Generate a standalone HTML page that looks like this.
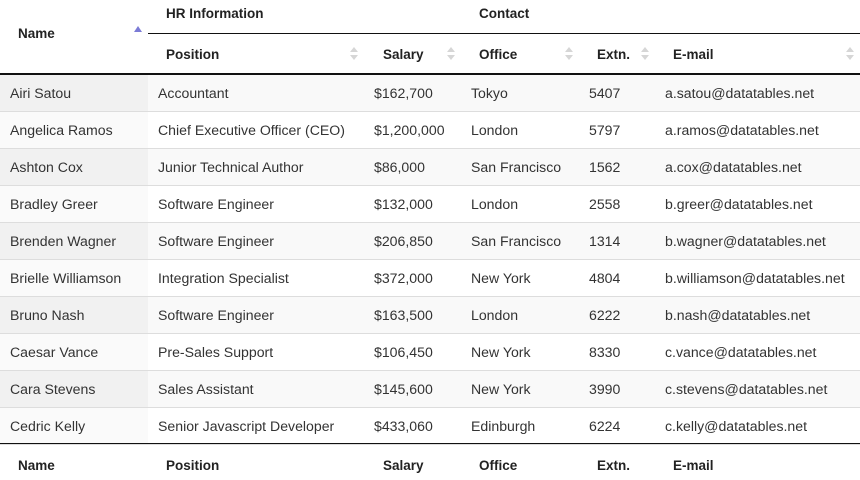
<!DOCTYPE html>
<html><head><meta charset="utf-8"><style>
body{margin:0;width:860px;height:480px;background:#fff;font-family:"Liberation Sans",Arial,sans-serif;color:#333;position:relative;overflow:hidden}
.a{position:absolute;white-space:nowrap}
.h{font-weight:bold;font-size:13.5px;color:#222}
.row{position:absolute;left:0;width:860px;height:36px;border-bottom:1px solid #ddd;font-size:14.1px}
.row .c{position:absolute;top:0;line-height:37px;height:36px;padding-left:10px;box-sizing:border-box}
.ic{position:absolute;width:8px;height:14px}
.ic:before,.ic:after{content:"";position:absolute;left:0;border-left:4px solid transparent;border-right:4px solid transparent}
.ic:before{top:0;border-bottom:5px solid #d6d6d6}
.ic:after{top:8px;border-top:5px solid #d6d6d6}
</style></head><body>
<div class="a h" style="left:18px;top:26px">Name</div>
<div class="a" style="left:134px;top:26px;border-left:4px solid transparent;border-right:4px solid transparent;border-bottom:6px solid #7b7bd6"></div>
<div class="a h" style="left:166px;top:6px">HR Information</div>
<div class="a h" style="left:479px;top:6px">Contact</div>
<div class="a" style="left:148px;top:33px;width:712px;height:1px;background:#111"></div>
<div class="a h" style="left:166px;top:47px">Position</div>
<div class="ic" style="left:350px;top:47px"></div>
<div class="a h" style="left:383px;top:47px">Salary</div>
<div class="ic" style="left:447px;top:47px"></div>
<div class="a h" style="left:479px;top:47px">Office</div>
<div class="ic" style="left:565px;top:47px"></div>
<div class="a h" style="left:597px;top:47px">Extn.</div>
<div class="ic" style="left:641px;top:47px"></div>
<div class="a h" style="left:673px;top:47px">E-mail</div>
<div class="ic" style="left:846px;top:47px"></div>
<div class="a" style="left:0;top:73px;width:860px;height:2px;background:#111"></div>
<div id="body"></div>
<div class="a" style="left:0;top:443px;width:860px;height:1px;background:#111"></div>
<div class="a h" style="left:18px;top:458px">Name</div>
<div class="a h" style="left:166px;top:458px">Position</div>
<div class="a h" style="left:383px;top:458px">Salary</div>
<div class="a h" style="left:479px;top:458px">Office</div>
<div class="a h" style="left:597px;top:458px">Extn.</div>
<div class="a h" style="left:673px;top:458px">E-mail</div>
<script>
const names=["Airi Satou","Angelica Ramos","Ashton Cox","Bradley Greer","Brenden Wagner","Brielle Williamson","Bruno Nash","Caesar Vance","Cara Stevens","Cedric Kelly"];
const positions=["Accountant","Chief Executive Officer (CEO)","Junior Technical Author","Software Engineer","Software Engineer","Integration Specialist","Software Engineer","Pre-Sales Support","Sales Assistant","Senior Javascript Developer"];
const salaries=["$162,700","$1,200,000","$86,000","$132,000","$206,850","$372,000","$163,500","$106,450","$145,600","$433,060"];
const offices=["Tokyo","London","San Francisco","London","San Francisco","New York","London","New York","New York","Edinburgh"];
const extns=["5407","5797","1562","2558","1314","4804","6222","8330","3990","6224"];
const emails=["a.satou@datatables.net","a.ramos@datatables.net","a.cox@datatables.net","b.greer@datatables.net","b.wagner@datatables.net","b.williamson@datatables.net","b.nash@datatables.net","c.vance@datatables.net","c.stevens@datatables.net","c.kelly@datatables.net"];
const lefts=[0,148,364,461,579,655], widths=[148,216,97,118,76,205];
const cols=[names,positions,salaries,offices,extns,emails];
const colNames=['name-cell','position-cell','salary-cell','office-cell','extn-cell','email-cell'];
const body=document.getElementById('body');
names.forEach((n,i)=>{
  const r=document.createElement('div');
  r.className='row';
  
  
  r.style.top=(75+i*37)+'px';
  r.style.background=i%2==0?'#f9f9f9':'#fff';
  cols.forEach((c,j)=>{
    const d=document.createElement('div');
    d.className='c';
    
    
    d.style.left=lefts[j]+'px';d.style.width=widths[j]+'px';
    if(j==0)d.style.background=i%2==0?'#f1f1f1':'#fafafa';
    d.textContent=c[i];
    r.appendChild(d);
  });
  body.appendChild(r);
});
</script>
</body></html>
